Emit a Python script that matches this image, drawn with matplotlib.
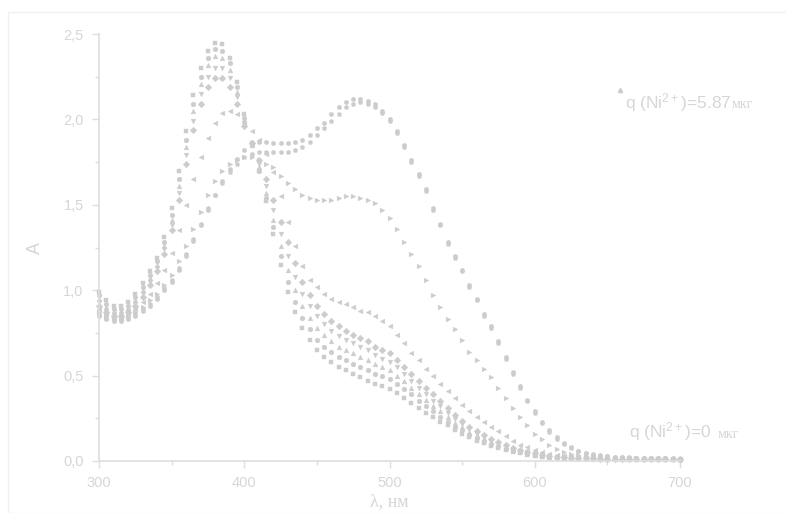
import numpy as np
import matplotlib
matplotlib.use("Agg")
import matplotlib.pyplot as plt
from matplotlib.patches import Rectangle

# ---------------- data ----------------
wavelength = list(range(300, 701, 5))

a_q0 = [0.99, 0.94, 0.91, 0.91, 0.93, 0.98, 1.04, 1.11, 1.19, 1.31, 1.48, 1.70, 1.93, 2.14, 2.30, 2.40, 2.45, 2.44, 2.36, 2.22,
        2.03, 1.86, 1.70, 1.52, 1.33, 1.15, 0.99, 0.87, 0.78, 0.71, 0.65, 0.61, 0.58, 0.55, 0.53, 0.51, 0.49, 0.47, 0.45, 0.44,
        0.42, 0.40, 0.37, 0.34, 0.31, 0.28, 0.26, 0.23, 0.21, 0.18, 0.16, 0.14, 0.12, 0.105, 0.09, 0.075, 0.065, 0.055, 0.045, 0.037,
        0.031, 0.026, 0.022, 0.019, 0.017, 0.015, 0.014, 0.013, 0.012, 0.012, 0.011, 0.011, 0.010, 0.010, 0.010, 0.009, 0.009, 0.009, 0.009, 0.008,
        0.008]
a_q1 = [0.97, 0.92, 0.89, 0.89, 0.91, 0.96, 1.02, 1.09, 1.17, 1.28, 1.44, 1.65, 1.88, 2.09, 2.25, 2.36, 2.41, 2.40, 2.33, 2.19,
        2.01, 1.85, 1.70, 1.54, 1.37, 1.20, 1.05, 0.93, 0.84, 0.77, 0.71, 0.67, 0.64, 0.61, 0.59, 0.57, 0.55, 0.53, 0.51, 0.50,
        0.48, 0.45, 0.42, 0.39, 0.35, 0.32, 0.29, 0.26, 0.23, 0.20, 0.18, 0.155, 0.135, 0.115, 0.10, 0.085, 0.07, 0.06, 0.05, 0.041,
        0.034, 0.028, 0.024, 0.021, 0.018, 0.016, 0.015, 0.014, 0.013, 0.012, 0.012, 0.011, 0.011, 0.010, 0.010, 0.010, 0.009, 0.009, 0.009, 0.009,
        0.008]
a_q2 = [0.95, 0.90, 0.87, 0.87, 0.89, 0.94, 1.00, 1.07, 1.15, 1.26, 1.41, 1.61, 1.84, 2.05, 2.21, 2.32, 2.37, 2.36, 2.29, 2.16,
        1.99, 1.85, 1.72, 1.57, 1.41, 1.26, 1.12, 1.00, 0.91, 0.84, 0.78, 0.74, 0.70, 0.67, 0.65, 0.63, 0.61, 0.59, 0.57, 0.55,
        0.53, 0.50, 0.47, 0.43, 0.39, 0.36, 0.32, 0.29, 0.26, 0.225, 0.20, 0.17, 0.15, 0.13, 0.11, 0.095, 0.08, 0.067, 0.056, 0.046,
        0.038, 0.031, 0.026, 0.022, 0.019, 0.017, 0.016, 0.015, 0.014, 0.013, 0.012, 0.012, 0.011, 0.011, 0.010, 0.010, 0.010, 0.009, 0.009, 0.009,
        0.009]
a_q3 = [0.93, 0.88, 0.86, 0.86, 0.88, 0.92, 0.98, 1.05, 1.13, 1.24, 1.38, 1.57, 1.79, 1.99, 2.15, 2.25, 2.30, 2.30, 2.24, 2.13,
        1.98, 1.85, 1.74, 1.61, 1.47, 1.33, 1.20, 1.08, 0.98, 0.91, 0.85, 0.80, 0.76, 0.73, 0.71, 0.69, 0.67, 0.65, 0.62, 0.60,
        0.58, 0.55, 0.51, 0.47, 0.43, 0.39, 0.35, 0.32, 0.28, 0.245, 0.215, 0.185, 0.16, 0.14, 0.12, 0.10, 0.085, 0.072, 0.06, 0.05,
        0.041, 0.034, 0.028, 0.024, 0.021, 0.018, 0.017, 0.015, 0.014, 0.013, 0.013, 0.012, 0.012, 0.011, 0.011, 0.010, 0.010, 0.010, 0.009, 0.009,
        0.009]
a_q4 = [0.91, 0.87, 0.85, 0.85, 0.87, 0.91, 0.96, 1.03, 1.11, 1.21, 1.35, 1.53, 1.74, 1.94, 2.09, 2.19, 2.24, 2.24, 2.19, 2.09,
        1.96, 1.86, 1.76, 1.65, 1.53, 1.40, 1.28, 1.16, 1.05, 0.97, 0.91, 0.86, 0.82, 0.79, 0.76, 0.74, 0.72, 0.70, 0.67, 0.65,
        0.63, 0.59, 0.55, 0.51, 0.47, 0.43, 0.39, 0.35, 0.31, 0.27, 0.235, 0.20, 0.175, 0.15, 0.13, 0.11, 0.093, 0.078, 0.065, 0.054,
        0.045, 0.037, 0.031, 0.026, 0.022, 0.019, 0.017, 0.016, 0.015, 0.014, 0.013, 0.013, 0.012, 0.012, 0.011, 0.011, 0.010, 0.010, 0.010, 0.009,
        0.009]
a_q5 = [0.89, 0.86, 0.84, 0.84, 0.86, 0.89, 0.93, 0.98, 1.04, 1.12, 1.22, 1.35, 1.50, 1.65, 1.78, 1.89, 1.98, 2.04, 2.05, 2.03,
        1.98, 1.93, 1.88, 1.80, 1.69, 1.55, 1.40, 1.26, 1.14, 1.06, 1.02, 0.98, 0.95, 0.93, 0.92, 0.90, 0.88, 0.87, 0.85, 0.82,
        0.79, 0.74, 0.69, 0.63, 0.59, 0.54, 0.50, 0.45, 0.41, 0.37, 0.33, 0.29, 0.26, 0.23, 0.20, 0.175, 0.145, 0.12, 0.095, 0.08,
        0.065, 0.053, 0.043, 0.036, 0.030, 0.025, 0.022, 0.020, 0.018, 0.016, 0.015, 0.014, 0.013, 0.013, 0.012, 0.012, 0.011, 0.011, 0.010, 0.010,
        0.010]
a_q6 = [0.87, 0.85, 0.84, 0.84, 0.85, 0.87, 0.90, 0.94, 0.98, 1.03, 1.09, 1.17, 1.26, 1.36, 1.46, 1.56, 1.64, 1.70, 1.74, 1.76,
        1.78, 1.78, 1.76, 1.74, 1.72, 1.67, 1.63, 1.59, 1.56, 1.54, 1.53, 1.53, 1.53, 1.54, 1.55, 1.55, 1.54, 1.53, 1.51, 1.47,
        1.42, 1.36, 1.28, 1.21, 1.14, 1.06, 0.97, 0.90, 0.83, 0.77, 0.71, 0.64, 0.59, 0.54, 0.49, 0.43, 0.37, 0.31, 0.26, 0.21,
        0.16, 0.13, 0.095, 0.07, 0.055, 0.043, 0.035, 0.029, 0.025, 0.022, 0.020, 0.018, 0.017, 0.016, 0.015, 0.014, 0.013, 0.013, 0.012, 0.012,
        0.011]
a_q7 = [0.86, 0.84, 0.83, 0.83, 0.84, 0.86, 0.89, 0.92, 0.96, 1.01, 1.06, 1.13, 1.21, 1.30, 1.39, 1.48, 1.56, 1.63, 1.69, 1.74,
        1.78, 1.80, 1.81, 1.81, 1.81, 1.81, 1.81, 1.82, 1.84, 1.87, 1.91, 1.95, 1.99, 2.03, 2.07, 2.09, 2.10, 2.09, 2.07, 2.04,
        1.99, 1.92, 1.84, 1.75, 1.67, 1.58, 1.47, 1.38, 1.27, 1.19, 1.11, 1.02, 0.94, 0.85, 0.78, 0.69, 0.60, 0.51, 0.43, 0.35,
        0.28, 0.22, 0.17, 0.13, 0.10, 0.075, 0.058, 0.046, 0.038, 0.032, 0.028, 0.025, 0.022, 0.020, 0.019, 0.017, 0.016, 0.015, 0.015, 0.014,
        0.013]
a_q8 = [0.85, 0.83, 0.82, 0.82, 0.83, 0.85, 0.88, 0.91, 0.95, 1.00, 1.05, 1.12, 1.20, 1.29, 1.38, 1.47, 1.56, 1.64, 1.71, 1.77,
        1.82, 1.86, 1.87, 1.87, 1.86, 1.86, 1.86, 1.87, 1.88, 1.91, 1.95, 1.98, 2.03, 2.07, 2.10, 2.12, 2.12, 2.11, 2.09, 2.05,
        2.00, 1.93, 1.85, 1.76, 1.68, 1.59, 1.48, 1.39, 1.28, 1.20, 1.12, 1.03, 0.95, 0.86, 0.79, 0.70, 0.61, 0.52, 0.44, 0.36,
        0.29, 0.23, 0.18, 0.14, 0.105, 0.08, 0.061, 0.048, 0.040, 0.034, 0.029, 0.026, 0.023, 0.021, 0.020, 0.018, 0.017, 0.016, 0.015, 0.015,
        0.014]

series = [a_q0, a_q1, a_q2, a_q3, a_q4, a_q5, a_q6, a_q7, a_q8]
markers = ['s', 'o', '^', 'v', 'D', '<', '>', 'p', 'h']

x_ticks = [300, 400, 500, 600, 700]
x_tick_labels = ['300', '400', '500', '600', '700']
y_ticks = [0.0, 0.5, 1.0, 1.5, 2.0, 2.5]
y_tick_labels = ['0,0', '0,5', '1,0', '1,5', '2,0', '2,5']

label_top = r'q (Ni$^{2+}$)=5.87'
label_bottom = r'q (Ni$^{2+}$)=0'
unit = 'мкг'

# ---------------- style ----------------
plt.rcParams['font.family'] = ['Liberation Sans', 'DejaVu Sans']
plt.rcParams['mathtext.default'] = 'regular'

mark_c = '#cccccc'
axis_c = '#dedede'
text_c = '#d6d6d6'

fig = plt.figure(figsize=(7.86, 5.13), dpi=100)
fig.patch.set_facecolor('white')
fig.patches.append(Rectangle((8 / 786, 0.0), 1.2, 1 - 12 / 513, transform=fig.transFigure,
                             fill=False, edgecolor='#f0f0f0', linewidth=1.0))
ax = fig.add_axes([99 / 786, 1 - 461 / 513, (680 - 99) / 786, (461 - 34) / 513])

for ys, mk in zip(series, markers):
    ax.plot(wavelength, ys, linestyle='none', marker=mk, markersize=3.4,
            markerfacecolor=mark_c, markeredgecolor=mark_c, markeredgewidth=0.3, clip_on=False)

ax.set_xlim(300, 700)
ax.set_ylim(0, 2.5)
for s in ['top', 'right']:
    ax.spines[s].set_visible(False)
for s in ['left', 'bottom']:
    ax.spines[s].set_color(axis_c)
    ax.spines[s].set_linewidth(1.2)

ax.set_xticks(x_ticks)
ax.set_xticklabels(x_tick_labels)
ax.set_yticks(y_ticks)
ax.set_yticklabels(y_tick_labels)
ax.set_xticks([350, 450, 550, 650], minor=True)
ax.set_yticks([0.25, 0.75, 1.25, 1.75, 2.25], minor=True)
ax.tick_params(axis='both', which='major', direction='out', length=5, width=1.0,
               color=axis_c, labelcolor=text_c, labelsize=10.5, pad=6)
ax.tick_params(axis='both', which='minor', direction='out', length=3, width=1.0, color=axis_c)

ax.set_ylabel('A', color=text_c, fontsize=13, labelpad=14)
ax.set_xlabel('λ, нм', color=text_c, fontsize=13, family=['Liberation Serif', 'DejaVu Serif'], labelpad=2)

t1 = ax.text(662, 2.10, label_top, color=text_c, fontsize=12.5, va='center', ha='left', clip_on=False)
ax.annotate(unit, xy=(1, 0.12), xycoords=t1, color=text_c, fontsize=10,
            family=['Liberation Serif', 'DejaVu Serif'], va='bottom', ha='left', annotation_clip=False)
ax.plot([659], [2.17], linestyle='none', marker='^', markersize=3, color=mark_c, clip_on=False)

t2 = ax.text(665, 0.17, label_bottom, color=text_c, fontsize=12.5, va='center', ha='left', clip_on=False)
ax.annotate(unit, xy=(1, 0.12), xycoords=t2, xytext=(4, 0), textcoords='offset points',
            color=text_c, fontsize=10, family=['Liberation Serif', 'DejaVu Serif'],
            va='bottom', ha='left', annotation_clip=False)

fig.savefig('out.png', dpi=100)
